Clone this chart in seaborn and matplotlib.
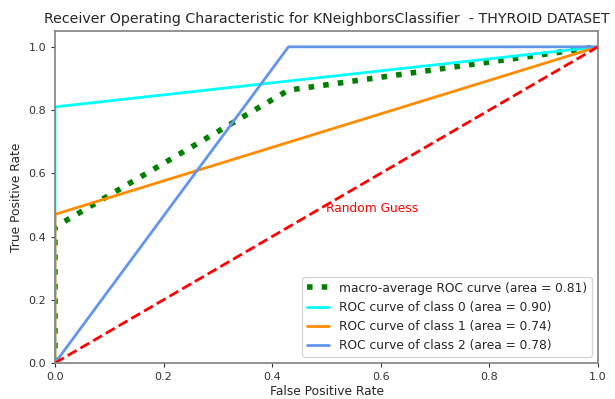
import matplotlib
matplotlib.use("Agg")
import matplotlib.pyplot as plt
import seaborn as sns
import pandas as pd

# ROC data
macro_fpr = [0.0, 0.0, 0.43, 1.0]
macro_tpr = [0.0, 0.43, 0.863, 1.0]
c0_fpr = [0.0, 0.0, 1.0]
c0_tpr = [0.0, 0.81, 1.0]
c1_fpr = [0.0, 0.0, 1.0]
c1_tpr = [0.0, 0.47, 1.0]
c2_fpr = [0.0, 0.43, 1.0]
c2_tpr = [0.0, 1.0, 1.0]
labels = [
    "macro-average ROC curve (area = 0.81)",
    "ROC curve of class 0 (area = 0.90)",
    "ROC curve of class 1 (area = 0.74)",
    "ROC curve of class 2 (area = 0.78)",
]
guess_x = [0.0, 1.0]
guess_y = [0.0, 1.0]

sns.set_style("ticks")
plt.rcParams["font.family"] = ["DejaVu Sans"]

fig = plt.figure(figsize=(6.15, 3.99), dpi=100)
ax = fig.add_axes([55 / 615, 1 - 363 / 399, (598 - 55) / 615, (363 - 31) / 399])

curves = [
    (macro_fpr, macro_tpr, labels[0], "green", ":", 4),
    (c0_fpr, c0_tpr, labels[1], "aqua", "-", 2),
    (c1_fpr, c1_tpr, labels[2], "darkorange", "-", 2),
    (c2_fpr, c2_tpr, labels[3], "cornflowerblue", "-", 2),
]
for fx, ty, lab, col, ls, lw in curves:
    df = pd.DataFrame({"fpr": fx, "tpr": ty})
    sns.lineplot(data=df, x="fpr", y="tpr", sort=False, estimator=None,
                 color=col, linestyle=ls, linewidth=lw, label=lab, ax=ax)

gdf = pd.DataFrame({"x": guess_x, "y": guess_y})
sns.lineplot(data=gdf, x="x", y="y", sort=False, estimator=None,
             color="red", linestyle="--", linewidth=2, ax=ax)
ax.text(0.5, 0.49, "Random Guess", color="red", fontsize=8.8, va="center", ha="left")

ax.set_xlim(0.0, 1.0)
ax.set_ylim(0.0, 1.05)
ax.set_xticks([0.0, 0.2, 0.4, 0.6, 0.8, 1.0])
ax.set_yticks([0.0, 0.2, 0.4, 0.6, 0.8, 1.0])
ax.tick_params(labelsize=8, colors="#333333", length=3)
for s in ax.spines.values():
    s.set_color("#808080")
    s.set_linewidth(1.2)
ax.set_xlabel("False Positive Rate", fontsize=8.8, labelpad=2)
ax.set_ylabel("True Positive Rate", fontsize=8.8)
ax.set_title("Receiver Operating Characteristic for KNeighborsClassifier  - THYROID DATASET",
             fontsize=10.2, pad=6)
ax.legend(loc="lower right", fontsize=8.8, frameon=True, handlelength=1.8)

fig.savefig("out.png", dpi=100)
